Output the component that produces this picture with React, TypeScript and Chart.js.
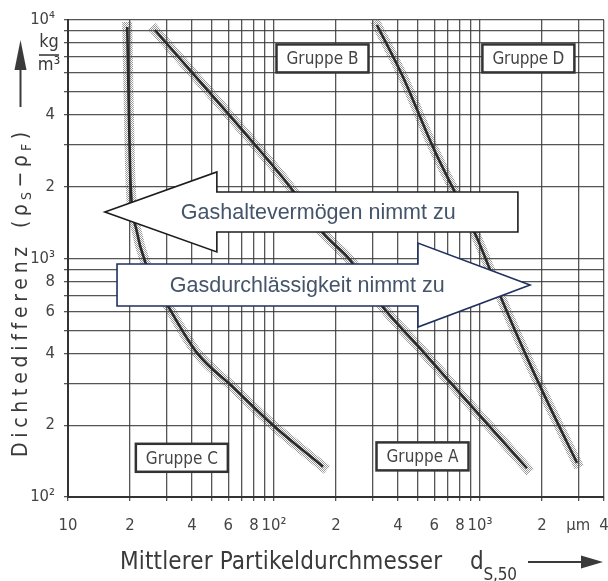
import React, { useEffect, useRef } from "react";
import { Chart, registerables } from "chart.js";

Chart.register(...registerables);

// Boundary lines between the powder groups:
// mean particle diameter d_S,50 in µm and density difference in kg/m³
const boundaryCA_d = [19.4, 19.7, 20.1, 21.5, 23.7, 31.0, 42.3, 63.2, 98.9, 173];
const boundaryCA_rho = [9350, 4600, 2130, 1316, 967, 620, 402, 289, 200, 134];

const boundaryAB_d = [26.4, 82.6, 119.7, 173, 234, 338, 511, 773, 1690];
const boundaryAB_rho = [9080, 2935, 1995, 1279, 986, 626, 421, 281, 132];

const boundaryBD_d = [316, 423, 591, 977, 1279, 1690, 2138, 2958];
const boundaryBD_rho = [9530, 5770, 2935, 1196, 670, 385, 248, 139];

// Group labels and where they sit in the diagram
const groupNames = ["Gruppe C", "Gruppe A", "Gruppe B", "Gruppe D"];
const groupAt_d = [35.7, 526, 172, 1718];
const groupAt_rho = [146, 148, 6900, 6900];

// Trend arrows: tail, head base and tip diameters, density of the arrow axis, text position
const arrowTexts = ["Gashaltevermögen nimmt zu", "Gasdurchlässigkeit nimmt zu"];
const arrowTail_d = [1528, 17.3];
const arrowBase_d = [52.8, 500];
const arrowTip_d = [15.1, 1750];
const arrowAt_rho = [1567, 774];
const arrowText_d = [164, 145];
const arrowStroke = ["#1c1c1c", "#1f3060"];

// Grid lines and tick labels
const xGrid = [10, 20, 30, 40, 50, 60, 70, 80, 90, 100, 200, 300, 400, 500, 600, 700, 800, 900, 1000, 2000, 3000, 4000];
const xTickValues = [10, 20, 40, 60, 80, 100, 200, 400, 600, 800, 1000, 2000, 3000, 4000];
const xTickLabels = ["10", "2", "4", "6", "8", "10²", "2", "4", "6", "8", "10³", "2", "µm", "4"];

const yGrid = [100, 200, 300, 400, 500, 600, 700, 800, 900, 1000, 2000, 3000, 4000, 5000, 6000, 7000, 8000, 9000, 10000];
const yTickValues = [100, 200, 400, 600, 800, 1000, 2000, 4000, 10000];
const yTickLabels = ["10²", "2", "4", "6", "8", "10³", "2", "4", "10⁴"];

const NARROW = "'Liberation Sans Narrow', 'DejaVu Sans Condensed', 'Liberation Sans', sans-serif";
const ARIAL = "'Liberation Sans', Arial, sans-serif";
const INK = "#3a3a3a";

type Run = { text: string; size: number; dy?: number };

// Draws runs of text spread evenly between x0 and x1 on baseline y
function drawRuns(ctx: any, runs: Run[], x0: number, x1: number, y: number) {
  let natural = 0;
  let chars = 0;
  const widths = runs.map((r) => {
    ctx.font = `${r.size}px ${NARROW}`;
    ctx.letterSpacing = "0px";
    const w = ctx.measureText(r.text).width;
    natural += w;
    chars += [...r.text].length;
    return w;
  });
  const ls = chars > 1 ? (x1 - x0 - natural) / (chars - 1) : 0;
  let cx = x0;
  ctx.textAlign = "left";
  ctx.textBaseline = "alphabetic";
  runs.forEach((r, i) => {
    ctx.font = `${r.size}px ${NARROW}`;
    ctx.letterSpacing = `${ls}px`;
    ctx.fillText(r.text, cx, y + (r.dy || 0));
    cx += widths[i] + ls * [...r.text].length;
  });
  ctx.letterSpacing = "0px";
}

function makeStipple(): CanvasPattern | string {
  const c = document.createElement("canvas");
  c.width = 2;
  c.height = 2;
  const g = c.getContext("2d");
  if (!g) return "rgba(120,120,120,0.5)";
  g.fillStyle = "rgba(85,85,85,0.6)";
  g.fillRect(0, 0, 1, 1);
  g.fillRect(1, 1, 1, 1);
  return g.createPattern(c, "repeat") || "rgba(120,120,120,0.5)";
}

const labelFor = (values: number[], labels: string[]) => (v: any) => {
  const i = values.indexOf(Math.round(Number(v)));
  return i >= 0 ? labels[i] : "";
};

const backgroundPlugin = {
  id: "paper",
  beforeDraw(chart: any) {
    const { ctx, width, height } = chart;
    ctx.save();
    ctx.fillStyle = "#ffffff";
    ctx.fillRect(0, 0, width, height);
    ctx.restore();
  },
};

const overlayPlugin = {
  id: "overlay",
  afterDatasetsDraw(chart: any) {
    const { ctx } = chart;
    const xs = chart.scales.x;
    const ys = chart.scales.y;
    ctx.save();

    // group label boxes
    groupNames.forEach((name, i) => {
      const cx = xs.getPixelForValue(groupAt_d[i]);
      const cy = ys.getPixelForValue(groupAt_rho[i]);
      const w = 92;
      const h = 28;
      ctx.fillStyle = "#ffffff";
      ctx.fillRect(cx - w / 2, cy - h / 2, w, h);
      ctx.strokeStyle = "#333333";
      ctx.lineWidth = 2.5;
      ctx.strokeRect(cx - w / 2, cy - h / 2, w, h);
      ctx.fillStyle = "#444444";
      drawRuns(ctx, [{ text: name, size: 17 }], cx - 36, cx + 36, cy + 6);
    });

    // trend arrows
    arrowTexts.forEach((text, i) => {
      const tail = xs.getPixelForValue(arrowTail_d[i]);
      const base = xs.getPixelForValue(arrowBase_d[i]);
      const tip = xs.getPixelForValue(arrowTip_d[i]);
      const cy = ys.getPixelForValue(arrowAt_rho[i]);
      const bh = i === 0 ? 20 : 21;
      const hh = i === 0 ? 40 : 42;
      ctx.beginPath();
      ctx.moveTo(tail, cy - bh);
      ctx.lineTo(base, cy - bh);
      ctx.lineTo(base, cy - hh);
      ctx.lineTo(tip, cy);
      ctx.lineTo(base, cy + hh);
      ctx.lineTo(base, cy + bh);
      ctx.lineTo(tail, cy + bh);
      ctx.closePath();
      ctx.fillStyle = "#ffffff";
      ctx.fill();
      ctx.strokeStyle = arrowStroke[i];
      ctx.lineWidth = 1.6;
      ctx.lineJoin = "miter";
      ctx.stroke();
      ctx.fillStyle = "#44546a";
      ctx.font = `21.5px ${ARIAL}`;
      ctx.textAlign = "center";
      ctx.textBaseline = "middle";
      ctx.fillText(text, xs.getPixelForValue(arrowText_d[i]), cy + 1);
    });
    ctx.restore();
  },
  afterDraw(chart: any) {
    const { ctx } = chart;
    const area = chart.chartArea;
    const ys = chart.scales.y;
    ctx.save();
    ctx.fillStyle = INK;
    ctx.strokeStyle = INK;

    // unit kg/m³ beside the upper end of the density axis
    const ux = area.left - 19;
    const yKg = ys.getPixelForValue(8000);
    const yM = ys.getPixelForValue(6000);
    ctx.font = `18px ${NARROW}`;
    ctx.textAlign = "center";
    ctx.textBaseline = "middle";
    ctx.fillText("kg", ux, yKg - 1);
    ctx.fillText("m³", ux, yM - 8);
    ctx.lineWidth = 1.6;
    ctx.beginPath();
    ctx.moveTo(ux - 10, (yKg + yM) / 2 - 3);
    ctx.lineTo(ux + 10, (yKg + yM) / 2 - 3);
    ctx.stroke();

    // x-axis title with arrow
    drawRuns(ctx, [{ text: "Mittlerer Partikeldurchmesser", size: 24 }], 120, 442, 569);
    drawRuns(ctx, [{ text: "d", size: 24 }, { text: "S,50", size: 17, dy: 11 }], 470, 517, 569);
    ctx.lineWidth = 2;
    ctx.beginPath();
    ctx.moveTo(528, 562);
    ctx.lineTo(584, 562);
    ctx.stroke();
    ctx.beginPath();
    ctx.moveTo(603, 562);
    ctx.lineTo(581, 555.5);
    ctx.lineTo(581, 568.5);
    ctx.closePath();
    ctx.fill();

    // y-axis title (rotated) with arrow
    ctx.save();
    ctx.translate(27, 457);
    ctx.rotate(-Math.PI / 2);
    drawRuns(ctx, [{ text: "Dichtedifferenz", size: 21 }], 0, 210, 0);
    drawRuns(
      ctx,
      [
        { text: "(ρ", size: 21 },
        { text: "S", size: 14, dy: 4 },
        { text: "−ρ", size: 21 },
        { text: "F", size: 14, dy: 4 },
        { text: ")", size: 21 },
      ],
      229,
      325,
      0
    );
    ctx.restore();
    ctx.lineWidth = 2;
    ctx.beginPath();
    ctx.moveTo(20.5, 107);
    ctx.lineTo(20.5, 66);
    ctx.stroke();
    ctx.beginPath();
    ctx.moveTo(20.5, 40);
    ctx.lineTo(14.5, 70);
    ctx.lineTo(26.5, 70);
    ctx.closePath();
    ctx.fill();

    ctx.restore();
  },
};

export default function App() {
  const ref = useRef<HTMLCanvasElement>(null);

  useEffect(() => {
    const canvas = ref.current;
    if (!canvas) return;
    const band = makeStipple();
    const toPoints = (d: number[], r: number[]) => d.map((v, i) => ({ x: v, y: r[i] }));
    const curves = [
      toPoints(boundaryCA_d, boundaryCA_rho),
      toPoints(boundaryAB_d, boundaryAB_rho),
      toPoints(boundaryBD_d, boundaryBD_rho),
    ];
    const datasets: any[] = [];
    curves.forEach((pts) => {
      datasets.push({
        data: pts,
        borderColor: "#2a2a2a",
        borderWidth: 2.6,
        pointRadius: 0,
        fill: false,
        order: 1,
        cubicInterpolationMode: "monotone",
      });
      datasets.push({
        data: pts,
        borderColor: band,
        borderWidth: 10,
        pointRadius: 0,
        fill: false,
        order: 2,
        borderCapStyle: "square",
        cubicInterpolationMode: "monotone",
      });
    });

    const gridColor = "rgba(55,55,55,0.85)";
    const tickFont = { family: NARROW, size: 16.5 };

    const chart = new Chart(canvas, {
      type: "line",
      data: { datasets },
      options: {
        animation: false,
        responsive: false,
        devicePixelRatio: 1,
        layout: { padding: { top: 20, right: 4, left: 0, bottom: 0 } },
        plugins: { legend: { display: false }, tooltip: { enabled: false } },
        scales: {
          x: {
            type: "logarithmic",
            min: 10,
            max: 4000,
            afterBuildTicks: (s: any) => {
              s.ticks = xGrid.map((v) => ({ value: v }));
            },
            afterFit: (s: any) => {
              s.height = 84;
              s.paddingLeft = 0;
              s.paddingRight = 0;
            },
            grid: { color: gridColor, lineWidth: 1.3, tickLength: 4 },
            border: { color: "#333333", width: 2 },
            ticks: {
              autoSkip: false,
              maxRotation: 0,
              padding: 15,
              color: "#444444",
              font: tickFont,
              callback: labelFor(xTickValues, xTickLabels),
            },
          },
          y: {
            type: "logarithmic",
            min: 100,
            max: 10000,
            afterBuildTicks: (s: any) => {
              s.ticks = yGrid.map((v) => ({ value: v }));
            },
            afterFit: (s: any) => {
              s.width = 68;
              s.paddingTop = 0;
              s.paddingBottom = 0;
            },
            grid: { color: gridColor, lineWidth: 1.3, tickLength: 4 },
            border: { color: "#333333", width: 2 },
            ticks: {
              autoSkip: false,
              padding: 9,
              color: "#444444",
              font: tickFont,
              callback: labelFor(yTickValues, yTickLabels),
            },
          },
        },
      } as any,
      plugins: [backgroundPlugin, overlayPlugin],
    });
    return () => chart.destroy();
  }, []);

  return (
    <div style={{ position: "absolute", left: 0, top: 0, width: 608, height: 581, background: "#ffffff" }}>
      <canvas ref={ref} width={608} height={581} style={{ display: "block" }} />
    </div>
  );
}
